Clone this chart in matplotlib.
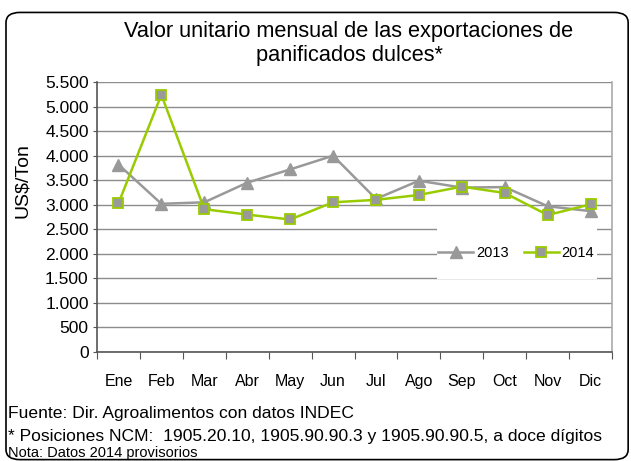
import matplotlib as mpl
mpl.use('Agg')
import matplotlib.pyplot as plt
from matplotlib.patches import FancyBboxPatch, Rectangle
from matplotlib.ticker import FuncFormatter
import numpy as np

months = ['Ene', 'Feb', 'Mar', 'Abr', 'May', 'Jun', 'Jul', 'Ago', 'Sep', 'Oct', 'Nov', 'Dic']
vals_2013 = [3820, 3020, 3050, 3450, 3720, 4000, 3120, 3490, 3350, 3360, 2970, 2870]
vals_2014 = [3030, 5240, 2910, 2800, 2700, 3050, 3100, 3200, 3370, 3240, 2790, 3010]
yticks = [0, 500, 1000, 1500, 2000, 2500, 3000, 3500, 4000, 4500, 5000, 5500]

title = 'Valor unitario mensual de las exportaciones de\npanificados dulces*'
footer1 = 'Fuente: Dir. Agroalimentos con datos INDEC'
footer2 = '* Posiciones NCM:  1905.20.10, 1905.90.90.3 y 1905.90.90.5, a doce dígitos'
footer3 = 'Nota: Datos 2014 provisorios'

plt.rcParams['font.family'] = ['Liberation Sans', 'DejaVu Sans']

fig = plt.figure(figsize=(6.31, 4.61), dpi=100)
ax = fig.add_axes([0.1537, 0.2364, 0.8163, 0.5856])

xs = np.arange(len(months)) + 0.5
ax.plot(xs, vals_2013, color='#999999', lw=1.8, marker='^', ms=8.5,
        mfc='#999999', mec='#999999', label='2013', zorder=3)
ax.plot(xs, vals_2014, color='#99CC00', lw=1.8, marker='s', ms=7.5,
        mfc='#999999', mec='#99CC00', mew=1.3, label='2014', zorder=4)

ax.set_xlim(0, len(months))
ax.set_ylim(0, 5500)
ax.set_yticks(yticks)
ax.yaxis.set_major_formatter(FuncFormatter(lambda v, p: f'{int(v):,}'.replace(',', '.')))
ax.grid(axis='y', color='#8c8c8c', lw=1)
ax.set_axisbelow(True)

ax.set_xticks(np.arange(len(months) + 1))
ax.set_xticklabels([])
ax.set_xticks(xs, minor=True)
ax.set_xticklabels(months, minor=True)
ax.tick_params(axis='x', which='major', direction='out', length=5, color='#555555')
ax.tick_params(axis='x', which='minor', length=0, labelsize=11.5, pad=16)
ax.tick_params(axis='y', direction='out', length=3, color='#555555', labelsize=12.5, pad=3)

ax.spines['top'].set_visible(False)
ax.spines['left'].set_color('#555555')
ax.spines['bottom'].set_color('#555555')
ax.spines['right'].set_color('#aaaaaa')
for s in ax.spines.values():
    s.set_linewidth(1.2)

fig.text(22 / 631, 1 - 181 / 461, 'US$/Ton', rotation=90, ha='center', va='center', fontsize=14)

# white patch behind the legend hides the gridlines there
ax.add_patch(Rectangle((0.66, 0.27), 0.31, 0.195, transform=ax.transAxes,
                       facecolor='white', edgecolor='none', zorder=1))
ax.legend(loc='center', bbox_to_anchor=(0.814, 0.367), ncol=2, frameon=False,
          fontsize=10.5, handlelength=2.4, columnspacing=1.0, handletextpad=0.2)

fig.text(0.553, 0.905, title, ha='center', va='center', fontsize=15.7, linespacing=1.2)
fig.text(0.013, 1 - 413 / 461, footer1, ha='left', va='center', fontsize=12.6)
fig.text(0.013, 1 - 436 / 461, footer2, ha='left', va='center', fontsize=12.6)
fig.text(0.013, 1.5 / 461, footer3, ha='left', va='bottom', fontsize=10.5)

border = FancyBboxPatch((0.0095, 0.003), 0.986, 0.97, boxstyle='round,pad=0,rounding_size=0.022',
                        transform=fig.transFigure, fill=False, edgecolor='black', lw=1.2)
fig.patches.append(border)

plt.savefig('out.png', dpi=100)
